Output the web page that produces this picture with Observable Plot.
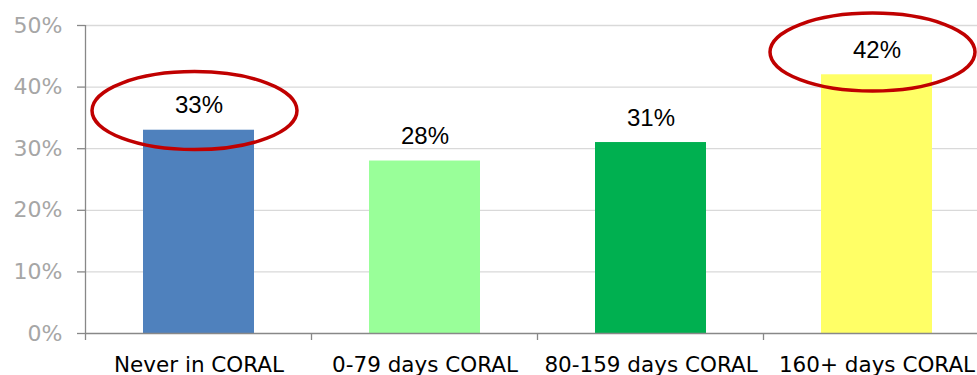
<!DOCTYPE html>
<html>
<head>
<meta charset="utf-8">
<script src="https://cdn.jsdelivr.net/npm/d3@7"></script>
<script src="https://cdn.jsdelivr.net/npm/@observablehq/plot@0.6"></script>
<style>
  html, body { margin: 0; padding: 0; background: #fff; }
  #chart svg { display: block; }
</style>
</head>
<body>
<div id="chart"></div>
<script>
// ---- data ----
const categories = ["Never in CORAL", "0-79 days CORAL", "80-159 days CORAL", "160+ days CORAL"];
const values = [0.33, 0.28, 0.31, 0.42];
const barColors = ["#4f81bd", "#99ff99", "#00b050", "#ffff66"];
const yTicks = [0, 0.1, 0.2, 0.3, 0.4, 0.5];
const highlighted = ["Never in CORAL", "160+ days CORAL"];
const highlightY = [0.361, 0.456];

const data = categories.map((c, i) => ({category: c, value: values[i], color: barColors[i]}));
const ellipses = highlighted.map((c, i) => ({category: c, y: highlightY[i]}));

// custom mark: category boundary ticks + left axis line
function boundaryTicks(index, scales, values, dims) {
  const x = scales.x, y = scales.y;
  const bw = x.bandwidth ? x.bandwidth() : 0;
  const step = x.step ? x.step() : bw;
  const g = d3.create("svg:g");
  const y0 = y(0), yTop = y(0.5);
  categories.forEach((c, i) => {
    const bx = x(c) - (step - bw) / 2;
    g.append("line")
      .attr("x1", bx).attr("x2", bx)
      .attr("y1", i === 0 ? yTop : y0).attr("y2", y0 + 7)
      .attr("stroke", "#888").attr("stroke-width", 1.3);
  });
  return g.node();
}

// custom mark: red ellipses around highlighted labels
function ellipseMark(index, scales) {
  const x = scales.x, y = scales.y;
  const bw = x.bandwidth ? x.bandwidth() : 0;
  const g = d3.create("svg:g");
  ellipses.forEach(e => {
    g.append("ellipse")
      .attr("cx", x(e.category) + bw / 2 - 4)
      .attr("cy", y(e.y))
      .attr("rx", 102.5)
      .attr("ry", 39)
      .attr("fill", "none")
      .attr("stroke", "#c00000")
      .attr("stroke-width", 3.5);
  });
  return g.node();
}

const chart = Plot.plot({
  width: 977,
  height: 375,
  marginLeft: 85,
  marginRight: 0,
  marginTop: 25,
  marginBottom: 42,
  style: {background: "#fff", overflow: "visible"},
  x: {domain: categories, range: [85, 989], paddingInner: 0.51, paddingOuter: 0.255, align: 0.5},
  y: {domain: [0, 0.5]},
  marks: [
    Plot.gridY(yTicks.filter(d => d > 0), {stroke: "#d9d9d9", strokeOpacity: 1, strokeWidth: 1.3}),
    Plot.barY(data, {x: "category", y: "value", fill: "color"}),
    Plot.ruleY([0], {stroke: "#888", strokeWidth: 1.3}),
    boundaryTicks,
    Plot.axisY(yTicks, {
      tickSize: 8, tickPadding: 15, stroke: "#888", strokeWidth: 1.3,
      fill: "#a6a6a6", fontSize: 22, fontFamily: "DejaVu Sans",
      tickFormat: d3.format(".0%"), label: null
    }),
    Plot.axisX({
      tickSize: 0, tickPadding: 23, fill: "#000",
      fontSize: 21.5, fontFamily: "DejaVu Sans", label: null
    }),
    Plot.text(data, {
      x: "category", y: "value", text: d => d3.format(".0%")(d.value),
      lineAnchor: "bottom", dy: -17, fontSize: 24, fontFamily: "Liberation Sans, Arial",
      fill: "#000"
    }),
    ellipseMark
  ]
});
document.getElementById("chart").appendChild(chart);
</script>
</body>
</html>
